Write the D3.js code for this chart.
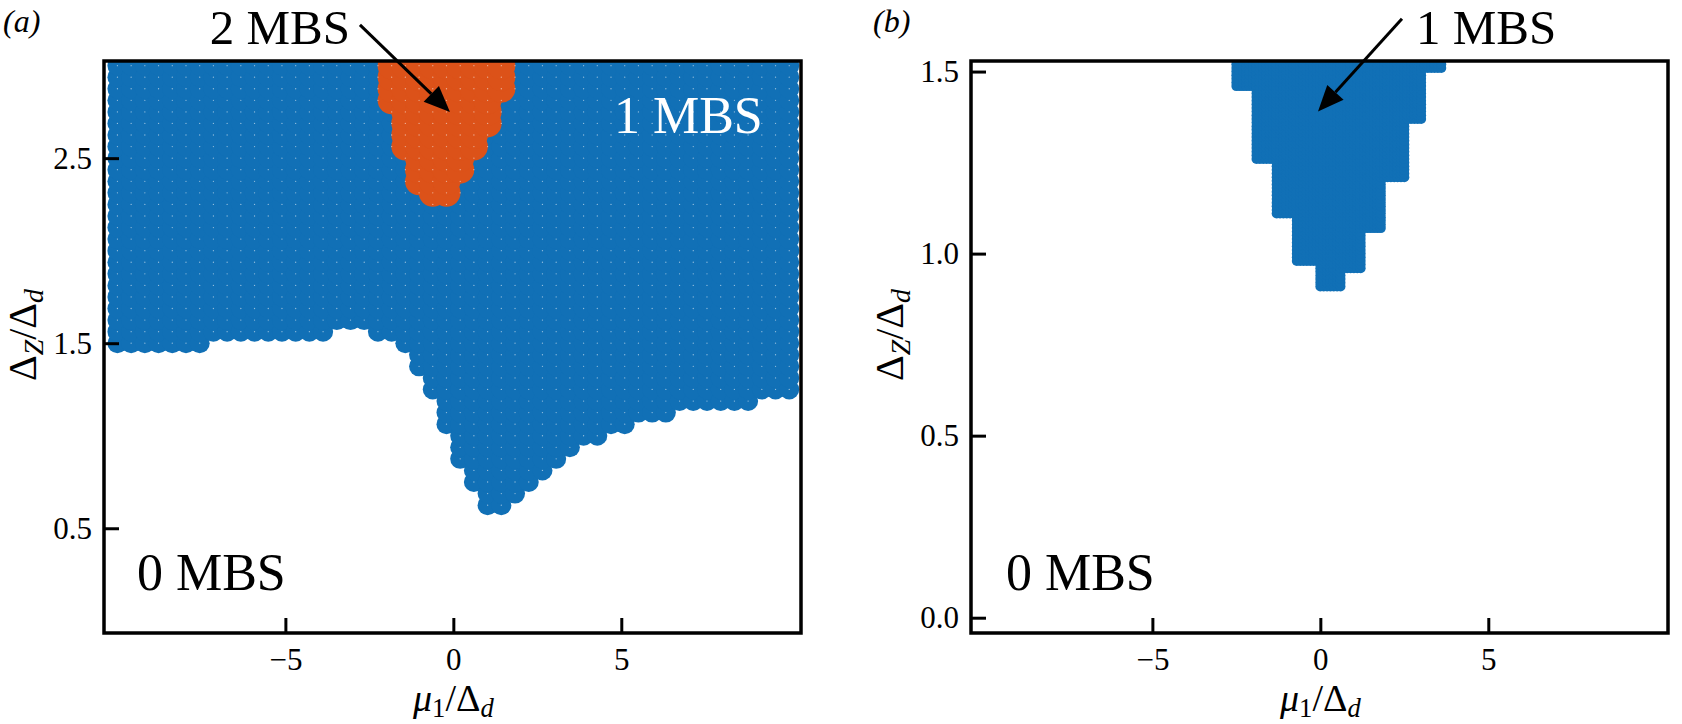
<!DOCTYPE html>
<html>
<head>
<meta charset="utf-8">
<script src="https://d3js.org/d3.v7.min.js"></script>
<style>
  body { margin: 0; background: #fff; }
  svg text { font-family: "Liberation Serif", "DejaVu Serif", serif; }
  .tick line { stroke: #000; stroke-width: 3; }
  .tick text { font-size: 31px; fill: #000; }
</style>
</head>
<body>
<svg id="fig" width="1682" height="724"></svg>
<script>
// ---- data, panel (a) ----
// sampling grid of the phase diagram
var muGridA = d3.range(50).map(function(i){ return -10 + i * 20 / 49; });
var dzGridA = d3.range(49).map(function(j){ return j * 0.0625; });
// lowest Delta_Z with 1 MBS, one value per mu column
var dzOneMBS = [1.5, 1.5, 1.5, 1.5, 1.5, 1.5, 1.5,
  1.5625, 1.5625, 1.5625, 1.5625, 1.5625, 1.5625, 1.5625, 1.5625, 1.5625,
  1.625, 1.625, 1.625, 1.5625, 1.5625, 1.5, 1.375, 1.25, 1.0625, 0.875, 0.75,
  0.625, 0.625, 0.6875, 0.75, 0.8125, 0.875, 0.9375, 1.0, 1.0, 1.0625, 1.0625,
  1.125, 1.125, 1.125, 1.1875, 1.1875, 1.1875, 1.1875, 1.1875, 1.1875,
  1.25, 1.25, 1.25];
// columns with 2 MBS and their lowest Delta_Z
var muTwoMBS = [-1.84, -1.43, -1.02, -0.61, -0.20, 0.20, 0.61, 1.02, 1.43];
var dzTwoMBS = [2.8125, 2.5625, 2.375, 2.3125, 2.3125, 2.4375, 2.5625, 2.6875, 2.875];

// ---- data, panel (b) ----
var muGridB = d3.range(-10, 10.001, 0.1);
var dzGridB = d3.range(0, 1.5401, 0.01);
// staircase edges of the 1 MBS region (lower Delta_Z of each step, mu edge)
var dzStepsL = [1.441, 1.245, 1.094, 0.957, 0.894];
var muLeftB  = [-2.71, -2.05, -1.47, -0.88, -0.21];
var dzStepsR = [1.490, 1.349, 1.194, 1.048, 0.938, 0.894];
var muRightB = [3.78, 3.21, 2.65, 1.95, 1.36, 0.78];

var blue = "#1170b6", orange = "#dc5219";

var svg = d3.select("#fig");

var boxA = {x0: 104, x1: 801, y0: 61, y1: 633};
var boxB = {x0: 971, x1: 1668, y0: 61, y1: 633};

var muDomain = [-10.4, 10.35];
var xA = d3.scaleLinear().domain(muDomain).range([boxA.x0, boxA.x1]);
var yA = d3.scaleLinear().domain([-0.066, 3.025]).range([boxA.y1, boxA.y0]);
var xB = d3.scaleLinear().domain(muDomain).range([boxB.x0, boxB.x1]);
var yB = d3.scaleLinear().domain([-0.042, 1.529]).range([boxB.y1, boxB.y0]);

var defs = svg.append("defs");
[["clipA", boxA], ["clipB", boxB]].forEach(function(c){
  defs.append("clipPath").attr("id", c[0]).append("rect")
    .attr("x", c[1].x0).attr("y", c[1].y0)
    .attr("width", c[1].x1 - c[1].x0).attr("height", c[1].y1 - c[1].y0);
});

// ---- panel (a) points ----
var ptsA = [];
muGridA.forEach(function(mu, i){
  var k = muTwoMBS.findIndex(function(m){ return Math.abs(m - mu) < 0.05; });
  dzGridA.forEach(function(dz){
    var n = 0;
    if (dz >= dzOneMBS[i] - 1e-9) n = 1;
    if (k >= 0 && dz >= dzTwoMBS[k] - 1e-9) n = 2;
    ptsA.push({mu: mu, dz: dz, n: n});
  });
});

var gA = svg.append("g").attr("clip-path", "url(#clipA)");
gA.selectAll("circle.one")
  .data(ptsA.filter(function(d){ return d.n == 1; }))
  .enter().append("circle")
    .attr("class", "one")
    .attr("cx", function(d){ return xA(d.mu); })
    .attr("cy", function(d){ return yA(d.dz); })
    .attr("r", 10)
    .style("fill", blue);
gA.selectAll("circle.two")
  .data(ptsA.filter(function(d){ return d.n == 2; }))
  .enter().append("circle")
    .attr("class", "two")
    .attr("cx", function(d){ return xA(d.mu); })
    .attr("cy", function(d){ return yA(d.dz); })
    .attr("r", 14)
    .style("fill", orange);
// sample markers
gA.selectAll("circle.pt")
  .data(ptsA.filter(function(d){ return d.n > 0; }))
  .enter().append("circle")
    .attr("class", "pt")
    .attr("cx", function(d){ return xA(d.mu); })
    .attr("cy", function(d){ return yA(d.dz); })
    .attr("r", 0.65)
    .style("fill", "#fff")
    .style("opacity", 0.55);

// ---- panel (b) points ----
function stepEdge(dz, steps, vals){
  for (var i = 0; i < steps.length; i++) {
    if (dz >= steps[i]) return vals[i];
  }
  return null;
}
var rB = 5;
var insetMu = rB / (xB(1) - xB(0));
var insetDz = rB / (yB(0) - yB(1));
var ptsB = [];
muGridB.forEach(function(mu){
  dzGridB.forEach(function(dz){
    var lo = stepEdge(dz - insetDz, dzStepsL, muLeftB);
    var hi = stepEdge(dz - insetDz, dzStepsR, muRightB);
    if (lo === null || hi === null) return;
    if (mu >= lo + insetMu && mu <= hi - insetMu) ptsB.push({mu: mu, dz: dz});
  });
});
var gB = svg.append("g").attr("clip-path", "url(#clipB)");
gB.selectAll("circle")
  .data(ptsB)
  .enter().append("circle")
    .attr("cx", function(d){ return xB(d.mu); })
    .attr("cy", function(d){ return yB(d.dz); })
    .attr("r", rB)
    .style("fill", blue);

// ---- axes ----
function drawAxes(x, y, box, yticks){
  var ax = svg.append("g").attr("transform", "translate(0," + box.y1 + ")")
    .call(d3.axisBottom(x).tickValues([-5, 0, 5]).tickFormat(d3.format("d"))
      .tickSizeInner(-15).tickSizeOuter(0).tickPadding(15));
  var ay = svg.append("g").attr("transform", "translate(" + box.x0 + ",0)")
    .call(d3.axisLeft(y).tickValues(yticks).tickFormat(d3.format(".1f"))
      .tickSizeInner(-15).tickSizeOuter(0).tickPadding(12));
  ax.select(".domain").remove();
  ay.select(".domain").remove();
  ax.attr("font-family", null).attr("font-size", null);
  ay.attr("font-family", null).attr("font-size", null);
  svg.append("rect")
    .attr("x", box.x0).attr("y", box.y0)
    .attr("width", box.x1 - box.x0).attr("height", box.y1 - box.y0)
    .style("fill", "none").style("stroke", "#000").style("stroke-width", 3.5);
}
drawAxes(xA, yA, boxA, [0.5, 1.5, 2.5]);
drawAxes(xB, yB, boxB, [0.0, 0.5, 1.0, 1.5]);

// ---- axis labels ----
function mathText(g, parts, size){
  var t = g.append("text").style("font-size", size + "px");
  parts.forEach(function(p){
    var s = t.append("tspan").text(p.t);
    if (p.i) s.style("font-style", "italic");
    if (p.sub) s.style("font-size", (size * 0.7) + "px").attr("dy", size * 0.17);
    if (p.back) s.attr("dy", -size * 0.17);
  });
  return t;
}
var xlab = [{t: "\u03bc", i: true}, {t: "1", sub: true}, {t: "/", back: true},
            {t: "\u0394"}, {t: "d", i: true, sub: true}];
var ylab = [{t: "\u0394"}, {t: "Z", i: true, sub: true}, {t: "/", back: true},
            {t: "\u0394"}, {t: "d", i: true, sub: true}];

[[boxA, xA], [boxB, xB]].forEach(function(p){
  mathText(svg, xlab, 38).attr("x", p[1](0)).attr("y", 711).attr("text-anchor", "middle");
  mathText(svg, ylab, 40).attr("text-anchor", "middle")
    .attr("transform", "translate(" + (p[0].x0 - 68) + "," + ((p[0].y0 + p[0].y1) / 2 - 12) + ") rotate(-90)");
});

// ---- annotations ----
svg.append("text").attr("x", 3).attr("y", 32).style("font-size", "32px")
  .style("font-style", "italic").text("(a)");
svg.append("text").attr("x", 873).attr("y", 32).style("font-size", "32px")
  .style("font-style", "italic").text("(b)");

function arrow(x, y, tail, tip){
  var x1 = x(tail[0]), y1 = y(tail[1]), x2 = x(tip[0]), y2 = y(tip[1]);
  var a = Math.atan2(y2 - y1, x2 - x1), L = 26, Wd = 11;
  var bx = x2 - L * Math.cos(a), by = y2 - L * Math.sin(a);
  svg.append("line").attr("x1", x1).attr("y1", y1).attr("x2", bx).attr("y2", by)
    .style("stroke", "#000").style("stroke-width", 3);
  svg.append("polygon")
    .attr("points", [[x2, y2],
      [bx + Wd * Math.sin(a), by - Wd * Math.cos(a)],
      [bx - Wd * Math.sin(a), by + Wd * Math.cos(a)]].join(" "))
    .style("fill", "#000");
}
arrow(xA, yA, [-2.78, 3.22], [-0.10, 2.75]);
arrow(xB, yB, [2.43, 1.645], [-0.07, 1.390]);

svg.append("text").attr("x", xA(-2.78) - 10).attr("y", 44).attr("text-anchor", "end")
  .style("font-size", "49px").text("2 MBS");
svg.append("text").attr("x", xB(2.43) + 14).attr("y", 44)
  .style("font-size", "49px").text("1 MBS");
svg.append("text").attr("x", xA(4.78)).attr("y", yA(2.636))
  .style("font-size", "52px").style("fill", "#fff").text("1 MBS");
svg.append("text").attr("x", xA(-9.42)).attr("y", yA(0.166))
  .style("font-size", "52px").text("0 MBS");
svg.append("text").attr("x", xB(-9.36)).attr("y", yB(0.075))
  .style("font-size", "52px").text("0 MBS");
</script>
</body>
</html>
